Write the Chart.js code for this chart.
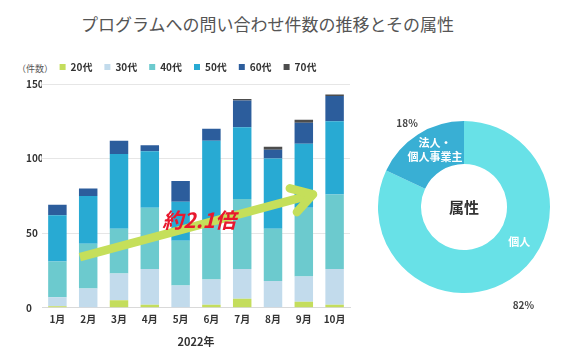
<!DOCTYPE html>
<html lang="ja">
<head>
<meta charset="UTF-8">
<title>問い合わせ件数</title>
<style>
  html, body { margin: 0; padding: 0; background: #fff; }
  body { width: 569px; height: 352px; position: relative; overflow: hidden;
         font-family: "Noto Sans CJK JP", "Noto Sans", sans-serif; }
  #title { position: absolute; left: 0; top: 11px; width: 535px; text-align: center;
           font-size: 17px; color: #555; }
  #unit { position: absolute; left: 17px; top: 62px; font-size: 9px; color: #555; }
  #barWrap { position: absolute; left: 0; top: 50px; width: 360px; height: 302px; }
  #pieWrap { position: absolute; left: 360px; top: 100px; width: 208px; height: 214px; }
</style>
</head>
<body>
<div id="title">プログラムへの問い合わせ件数の推移とその属性</div>
<div id="unit">（件数）</div>
<div id="barWrap"><canvas id="barChart"></canvas></div>
<div id="pieWrap"><canvas id="pieChart"></canvas></div>

<script src="https://cdn.jsdelivr.net/npm/chart.js@4/dist/chart.umd.min.js"></script>
<script>
  const FONT = '"Noto Sans CJK JP", "Noto Sans", sans-serif';

  const months = ['1月', '2月', '3月', '4月', '5月', '6月', '7月', '8月', '9月', '10月'];
  const age20 = [1, 0, 5, 2, 0, 2, 6, 0, 4, 2];
  const age30 = [6, 13, 18, 24, 15, 17, 20, 18, 17, 24];
  const age40 = [24, 30, 30, 41, 30, 38, 47, 35, 46, 50];
  const age50 = [31, 32, 50, 38, 26, 55, 48, 47, 43, 49];
  const age60 = [7, 5, 9, 4, 14, 8, 18, 6, 14, 17];
  const age70 = [0, 0, 0, 0, 0, 0, 1, 2, 2, 1];

  const yTicks = [0, 50, 100, 150];

  const pieLabels = ['個人', '法人・個人事業主'];
  const pieValues = [82, 18];

  const COLORS = ['#c4dd5c', '#c2dbec', '#6ccace', '#28aad3', '#2c5d9c', '#4d4d4d'];
  const PIE_COLORS = ['#68e1e7', '#39afd4'];

  const series = [
    ['20代', age20], ['30代', age30], ['40代', age40],
    ['50代', age50], ['60代', age60], ['70代', age70]
  ];

  // a little extra room under the legend
  const legendGap = {
    id: 'legendGap',
    beforeInit(chart) {
      const fit = chart.legend.fit;
      chart.legend.fit = function () {
        fit.call(this);
        this.height += 2;
      };
    }
  };

  // green arrow + "約2.1倍" drawn on top of the bars
  const arrowPlugin = {
    id: 'arrow',
    afterDatasetsDraw(chart) {
      const { ctx, scales: { x, y } } = chart;
      const x0 = x.getPixelForValue(0.73), y0 = y.getPixelForValue(34);
      const x1 = x.getPixelForValue(8.3), y1 = y.getPixelForValue(76);
      const ang = Math.atan2(y1 - y0, x1 - x0);
      ctx.save();
      ctx.strokeStyle = '#c5df5a';
      ctx.lineWidth = 8.5;
      ctx.lineCap = 'butt';
      ctx.beginPath();
      ctx.moveTo(x0, y0);
      ctx.lineTo(x1 - 3 * Math.cos(ang), y1 - 3 * Math.sin(ang));
      ctx.stroke();
      const len = 24;
      ctx.lineCap = 'round';
      ctx.lineJoin = 'round';
      ctx.beginPath();
      ctx.moveTo(x1 - len * Math.cos(ang - 0.57), y1 - len * Math.sin(ang - 0.57));
      ctx.lineTo(x1, y1);
      ctx.lineTo(x1 - len * Math.cos(ang + 0.52), y1 - len * Math.sin(ang + 0.52));
      ctx.stroke();

      ctx.fillStyle = '#e8182e';
      ctx.font = 'italic bold 21px ' + FONT;
      ctx.textAlign = 'center';
      ctx.textBaseline = 'middle';
      ctx.fillText('約2.1倍', x.getPixelForValue(4.6), y.getPixelForValue(59));
      ctx.restore();
    }
  };

  new Chart(document.getElementById('barChart'), {
    type: 'bar',
    data: {
      labels: months,
      datasets: series.map(([label, data], i) => ({
        label,
        data,
        backgroundColor: COLORS[i],
        borderWidth: 0,
        barPercentage: 0.6,
        categoryPercentage: 1
      }))
    },
    options: {
      responsive: true,
      maintainAspectRatio: false,
      animation: false,
      layout: { padding: { left: 26, right: 10, top: 0, bottom: 0 } },
      plugins: {
        tooltip: { enabled: false },
        legend: {
          position: 'top',
          align: 'center',
          labels: {
            boxWidth: 6,
            boxHeight: 6,
            padding: 12,
            color: '#333',
            font: { family: FONT, size: 10, weight: 'bold' }
          }
        }
      },
      scales: {
        x: {
          stacked: true,
          grid: { display: false, drawTicks: false },
          border: { color: '#d9d9d9' },
          ticks: { color: '#333', font: { family: FONT, size: 10, weight: 'bold' }, padding: 5 },
          title: { display: true, text: '2022年', color: '#333', padding: { top: 5, bottom: 4 },
                   font: { family: FONT, size: 11, weight: 'bold' } }
        },
        y: {
          stacked: true,
          min: 0,
          max: 150,
          afterBuildTicks(axis) { axis.ticks = yTicks.map(v => ({ value: v })); },
          afterFit(axis) { axis.width = 16; },
          grid: { color: '#e6e6e6', drawTicks: false },
          border: { display: false },
          ticks: { color: '#333', padding: 0, crossAlign: 'far',
                   font: { family: FONT, size: 10, weight: 'bold' } }
        }
      }
    },
    plugins: [legendGap, arrowPlugin]
  });

  // labels around / inside the doughnut
  const pieText = {
    id: 'pieText',
    afterDraw(chart) {
      const { ctx } = chart;
      const arcs = chart.getDatasetMeta(0).data;
      const cx = arcs[0].x, cy = arcs[0].y;
      const inner = arcs[0].innerRadius, outer = arcs[0].outerRadius;
      const mid = (inner + outer) / 2;
      ctx.save();
      ctx.textAlign = 'center';
      ctx.textBaseline = 'middle';

      ctx.fillStyle = '#333';
      ctx.font = 'bold 15px ' + FONT;
      ctx.fillText('属性', cx, cy);

      // 個人
      const a0 = arcs[0].startAngle + (arcs[0].endAngle - arcs[0].startAngle) * 0.41;
      ctx.fillStyle = '#fff';
      ctx.font = 'bold 11px ' + FONT;
      ctx.fillText(pieLabels[0], cx + mid * Math.cos(a0), cy + mid * Math.sin(a0) + 2);
      // 法人・個人事業主
      const a1 = (arcs[1].startAngle + arcs[1].endAngle) / 2 + 0.1;
      const lx = cx + mid * Math.cos(a1), ly = cy + mid * Math.sin(a1);
      ctx.fillText('法人・', lx, ly - 7);
      ctx.fillText('個人事業主', lx, ly + 7);

      ctx.fillStyle = '#444';
      ctx.font = 'bold 10px ' + FONT;
      const b0 = (arcs[0].startAngle + arcs[0].endAngle) / 2 + 0.02;
      ctx.fillText(pieValues[0] + '%', cx + outer * 1.33 * Math.cos(b0), cy + outer * 1.33 * Math.sin(b0));
      const b1 = (arcs[1].startAngle + arcs[1].endAngle) / 2 - 0.03;
      ctx.fillText(pieValues[1] + '%', cx + outer * 1.18 * Math.cos(b1), cy + outer * 1.18 * Math.sin(b1));
      ctx.restore();
    }
  };

  new Chart(document.getElementById('pieChart'), {
    type: 'doughnut',
    data: {
      labels: pieLabels,
      datasets: [{
        data: pieValues,
        backgroundColor: PIE_COLORS,
        borderWidth: 0
      }]
    },
    options: {
      responsive: true,
      maintainAspectRatio: false,
      animation: false,
      cutout: '50%',
      layout: { padding: 18 },
      plugins: { legend: { display: false }, tooltip: { enabled: false } }
    },
    plugins: [pieText]
  });
</script>
</body>
</html>
